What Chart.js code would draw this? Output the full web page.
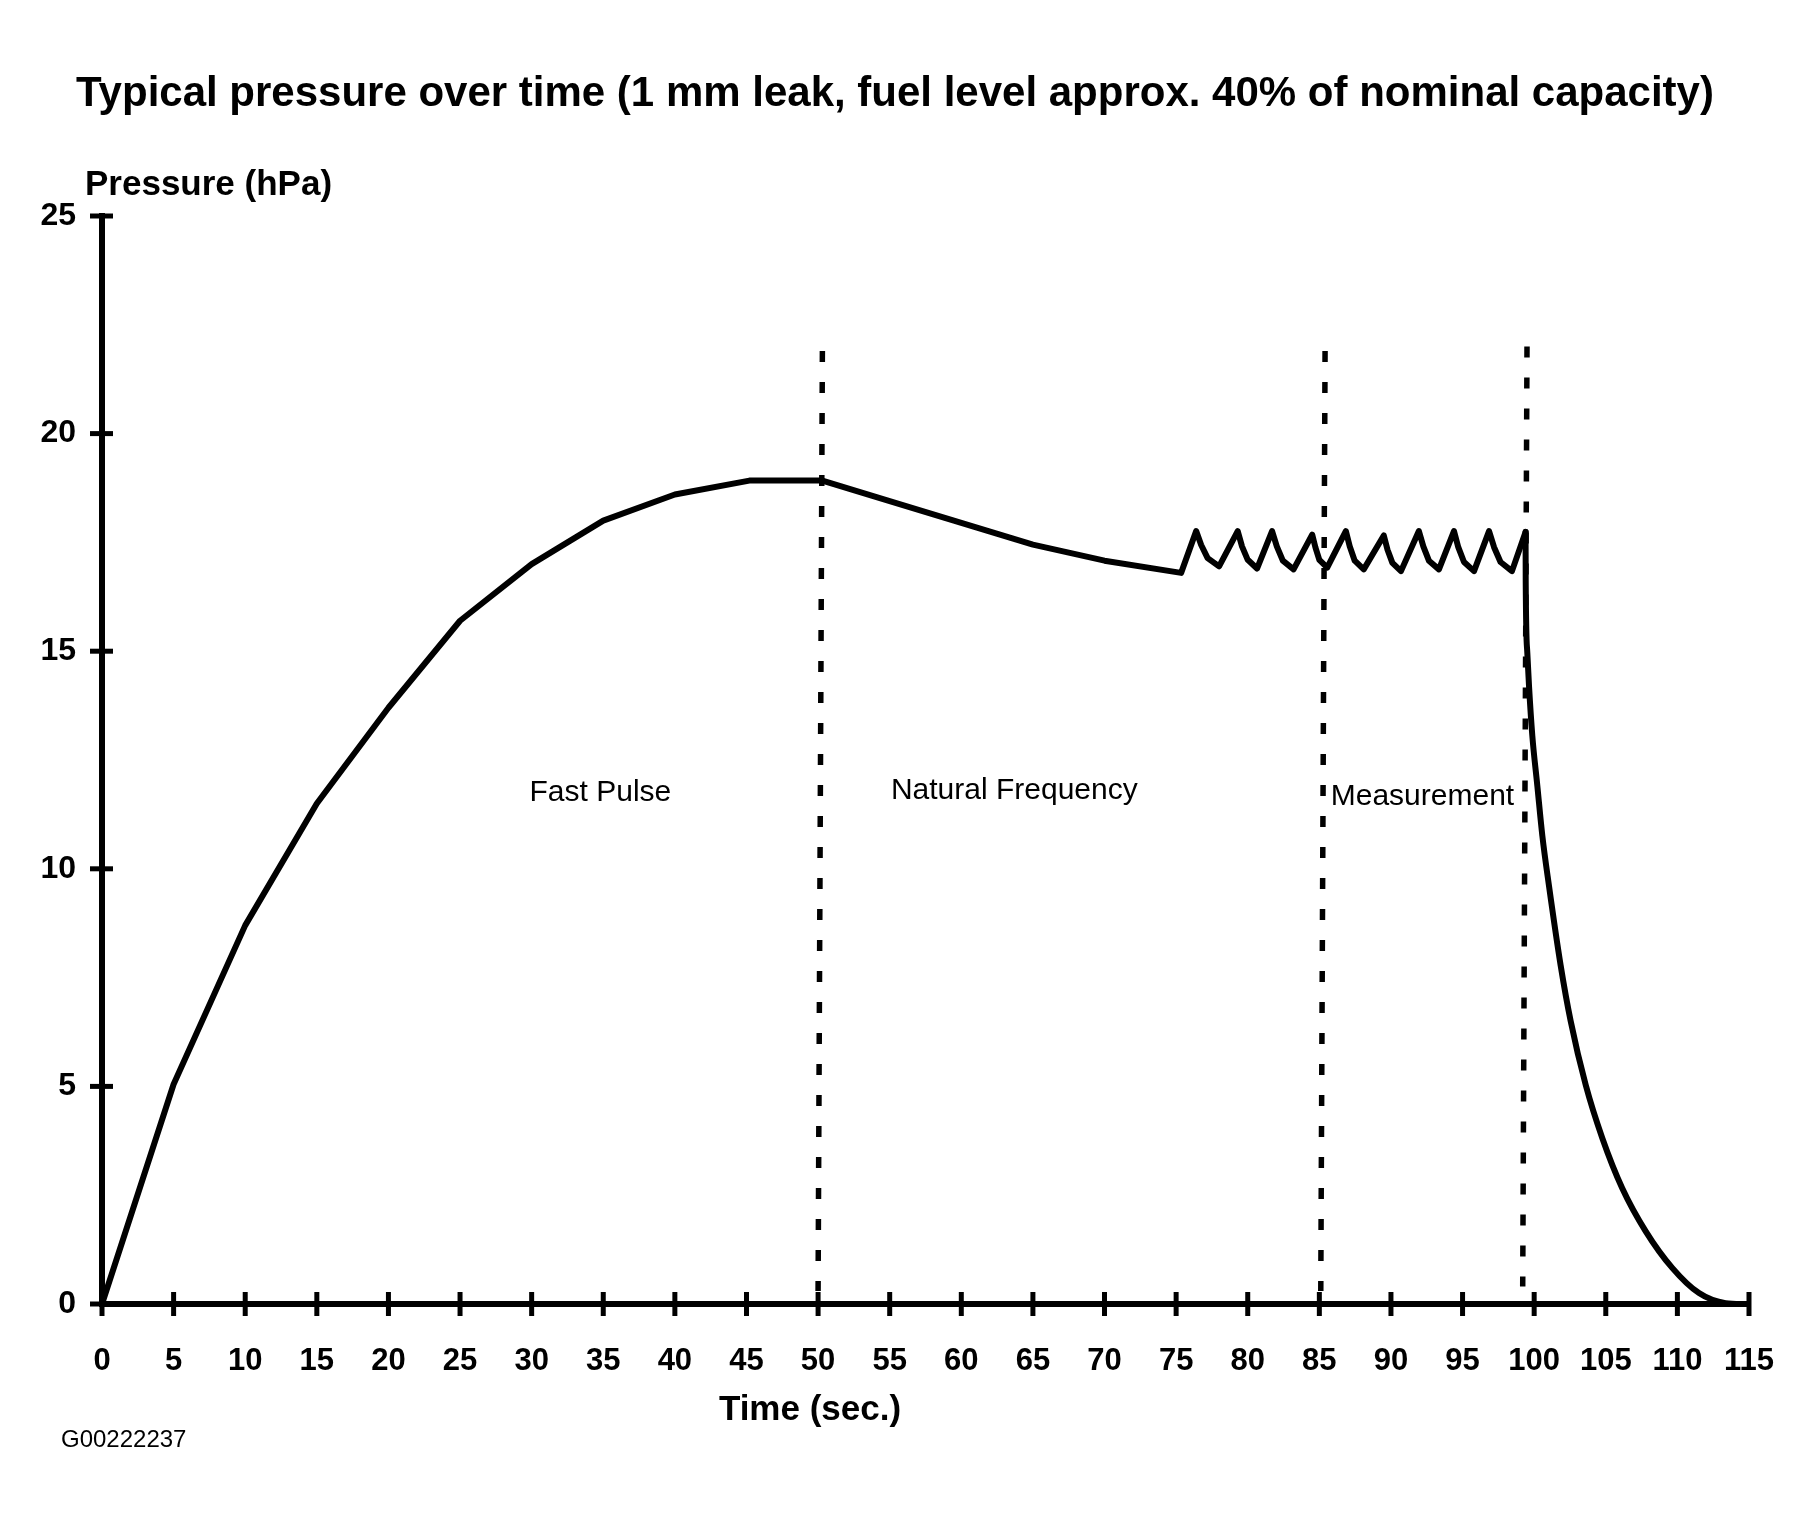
<!DOCTYPE html>
<html>
<head>
<meta charset="utf-8">
<script src="https://cdn.jsdelivr.net/npm/chart.js@4.4.0/dist/chart.umd.min.js"></script>
<style>
  html, body { margin: 0; padding: 0; background: #fff; }
  #chart { display: block; }
</style>
</head>
<body>
<canvas id="chart" width="1813" height="1523"></canvas>
<script>
const titleText = 'Typical pressure over time (1 mm leak, fuel level approx. 40% of nominal capacity)';
const yAxisTitle = 'Pressure (hPa)';
const xAxisTitle = 'Time (sec.)';
const figureCode = 'G00222237';

const xTickValues = [0, 5, 10, 15, 20, 25, 30, 35, 40, 45, 50, 55, 60, 65, 70, 75, 80, 85, 90, 95, 100, 105, 110, 115];
const yTickValues = [0, 5, 10, 15, 20, 25];

// pump phase: rise, natural frequency and measurement pulses (sec, hPa)
const pumpTime = [0, 5, 10, 15, 20, 25, 30, 35, 40, 45.2, 50.3, 55, 60, 65, 70, 75.35,
  76.4, 76.75, 77.2, 78.0, 79.3, 79.6, 80.0, 80.65, 81.7, 82.03, 82.45, 83.2,
  84.5, 84.73, 85.0, 85.55, 86.85, 87.12, 87.47, 88.1, 89.5, 89.76, 90.1, 90.7,
  91.95, 92.26, 92.65, 93.35, 94.4, 94.7, 95.1, 95.8, 96.85, 97.2, 97.65, 98.45, 99.4];
const pumpPressure = [0, 5.05, 8.7, 11.5, 13.7, 15.7, 17.0, 18.0, 18.6, 18.92, 18.92, 18.45, 17.95, 17.45, 17.08, 16.8,
  17.76, 17.44, 17.14, 16.95, 17.76, 17.41, 17.1, 16.9, 17.76, 17.41, 17.08, 16.88,
  17.68, 17.38, 17.1, 16.92, 17.76, 17.41, 17.08, 16.88, 17.66, 17.33, 17.03, 16.84,
  17.76, 17.41, 17.08, 16.88, 17.76, 17.39, 17.05, 16.84, 17.76, 17.39, 17.05, 16.84, 17.74];

// venting after measurement
const ventTime = [99.4, 99.41, 99.52, 99.64, 99.87, 100.22, 100.57, 101.03, 101.85, 102.55, 103.6,
  104.76, 106.15, 107.79, 109.64, 111.51, 113.37, 114.8];
const ventPressure = [17.74, 16.58, 14.97, 14.2, 13.06, 11.91, 10.76, 9.62, 7.78, 6.5, 5.03,
  3.81, 2.66, 1.67, 0.83, 0.25, 0.02, 0];

// dotted phase boundaries
const markerTopTime = [50.3, 85.4, 99.5];
const markerTopPressure = [21.9, 21.9, 22.0];
const markerBottomTime = [50.0, 85.1, 99.2];
const markerBottomPressure = [0.3, 0.3, 0.4];

const phaseNames = ['Fast Pulse', 'Natural Frequency', 'Measurement'];
const phaseLabelTime = [34.8, 63.7, 92.2];
const phaseLabelPressure = [11.74, 11.8, 11.66];

const FONT = '"Liberation Sans", Arial, Helvetica, sans-serif';

const datasets = [{
  data: pumpTime.map((t, i) => ({ x: t, y: pumpPressure[i] })),
  borderColor: '#000',
  borderWidth: 6,
  borderJoinStyle: 'round',
  borderCapStyle: 'round',
  pointRadius: 0,
  tension: 0,
  fill: false,
  clip: false
}, {
  data: ventTime.map((t, i) => ({ x: t, y: ventPressure[i] })),
  borderColor: '#000',
  borderWidth: 6,
  borderJoinStyle: 'round',
  borderCapStyle: 'round',
  pointRadius: 0,
  cubicInterpolationMode: 'monotone',
  fill: false,
  clip: false
}];

markerTopTime.forEach((t, i) => {
  datasets.push({
    data: [{ x: t, y: markerTopPressure[i] }, { x: markerBottomTime[i], y: markerBottomPressure[i] }],
    borderColor: '#000',
    borderWidth: 5.5,
    borderDash: [11, 20],
    borderCapStyle: 'butt',
    pointRadius: 0,
    fill: false,
    clip: false
  });
});

const decorations = {
  id: 'decorations',
  afterDraw(chart) {
    const { ctx, scales: { x, y } } = chart;
    ctx.save();
    ctx.strokeStyle = '#000';
    ctx.lineWidth = 5;
    x.ticks.forEach(t => {
      const px = x.getPixelForValue(t.value);
      ctx.beginPath();
      ctx.moveTo(px, y.bottom - 12);
      ctx.lineTo(px, y.bottom + 12);
      ctx.stroke();
    });
    y.ticks.forEach(t => {
      const py = y.getPixelForValue(t.value);
      ctx.beginPath();
      ctx.moveTo(x.left - 12, py);
      ctx.lineTo(x.left + 11, py);
      ctx.stroke();
    });

    ctx.fillStyle = '#000';
    ctx.textBaseline = 'alphabetic';
    ctx.textAlign = 'center';
    ctx.font = 'bold 42px ' + FONT;
    ctx.fillText(titleText, 895, 106);

    ctx.font = 'bold 35px ' + FONT;
    ctx.fillText(xAxisTitle, 810, 1420);
    ctx.textAlign = 'left';
    ctx.fillText(yAxisTitle, 85, 195);

    ctx.font = '24px ' + FONT;
    ctx.fillText(figureCode, 61, 1447);

    ctx.textAlign = 'center';
    ctx.textBaseline = 'middle';
    ctx.font = '30px ' + FONT;
    phaseNames.forEach((name, i) => {
      ctx.fillText(name, x.getPixelForValue(phaseLabelTime[i]), y.getPixelForValue(phaseLabelPressure[i]));
    });
    ctx.restore();
  }
};

new Chart(document.getElementById('chart'), {
  type: 'line',
  data: { datasets: datasets },
  options: {
    responsive: false,
    animation: false,
    devicePixelRatio: 1,
    layout: { padding: { left: 0, right: 63, top: 216, bottom: 0 } },
    plugins: {
      legend: { display: false },
      tooltip: { enabled: false }
    },
    scales: {
      x: {
        type: 'linear',
        min: 0,
        max: 115,
        afterBuildTicks: scale => { scale.ticks = xTickValues.map(v => ({ value: v })); },
        afterFit: scale => { scale.height = 219; },
        ticks: {
          color: '#000',
          font: { family: FONT, size: 31, weight: 'bold' },
          padding: 39,
          maxRotation: 0,
          autoSkip: false
        },
        grid: { display: false, drawTicks: false },
        border: { display: true, color: '#000', width: 6 }
      },
      y: {
        min: 0,
        max: 25,
        afterBuildTicks: scale => { scale.ticks = yTickValues.map(v => ({ value: v })); },
        afterFit: scale => { scale.width = 102; },
        ticks: {
          color: '#000',
          font: { family: FONT, size: 32, weight: 'bold' },
          padding: 26
        },
        grid: { display: false, drawTicks: false },
        border: { display: true, color: '#000', width: 6 }
      }
    }
  },
  plugins: [decorations]
});
</script>
</body>
</html>
